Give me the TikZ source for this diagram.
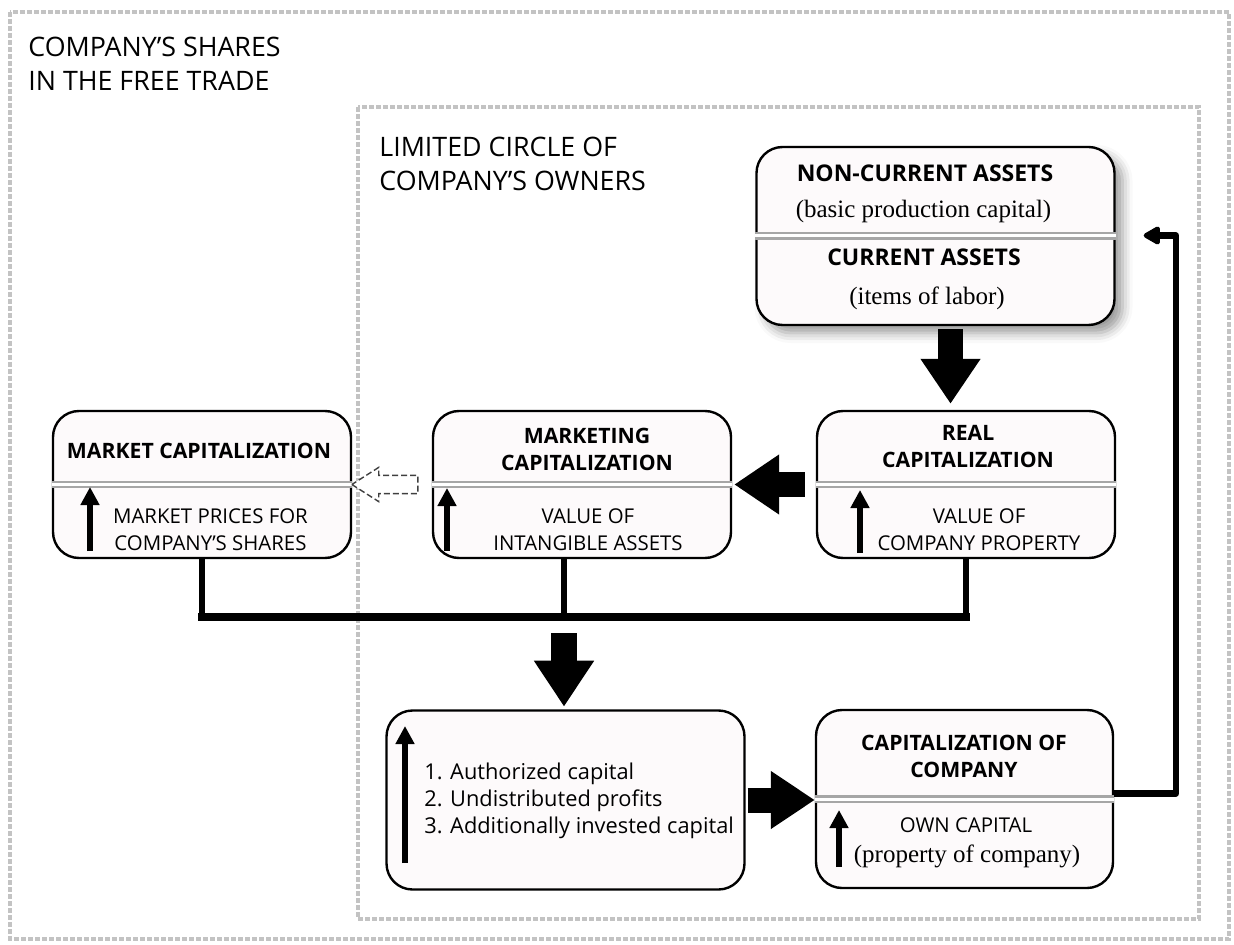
\documentclass[tikz,border=0pt]{standalone}
\usepackage{fontspec}
\setmainfont{Open Sans}
\newfontfamily\tnr{Liberation Serif}
\usepackage{tikz}
\usetikzlibrary{calc,arrows.meta,positioning,shapes.arrows,shadows.blur}

\definecolor{boxfill}{RGB}{253,250,251}
\definecolor{framegray}{RGB}{195,195,195}

\tikzset{
  frame/.style={draw=framegray, line width=2.4pt, dash pattern=on 2.5pt off 1pt},
  box/.style={draw, line width=1.2pt, rounded corners=13pt, fill=boxfill, inner sep=0pt},
  divider/.style={draw=black!35, line width=1.2pt, double=white, double distance=1.5pt},
  head/.style={font=\bfseries\fontsize{10.6}{13.5}\selectfont, align=center, inner sep=0pt, anchor=north},
  body/.style={font=\fontsize{10.2}{13.5}\selectfont, align=center, inner sep=0pt, anchor=north},
  paren/.style={font=\tnr\fontsize{12.5}{15}\selectfont, inner sep=0pt, anchor=base},
  zone/.style={font=\fontsize{13.4}{17}\selectfont, align=left, inner sep=0pt, anchor=north west},
  block/.style={line width=12.5pt, -{Triangle[width=28.5pt,length=22.5pt]}},
  risearrow/.style={line width=2.6pt, -{Triangle[width=9pt,length=9pt]}},
  bus/.style={line width=2.6pt},
  hollow/.style={single arrow, draw=black!75, dash pattern=on 3pt off 1.5pt, line width=0.7pt, fill=white,
    shape border rotate=180, minimum height=33pt, minimum width=16.5pt,
    single arrow head extend=4pt, single arrow tip angle=65, inner xsep=0pt, inner ysep=4.2pt}
}

\begin{document}
\begin{tikzpicture}[x=0.5pt, y=-0.5pt]
\useasboundingbox (0,0) rectangle (1234,945);

% the two circles of owners
\draw[frame] (10,12) rectangle (1229,939);
\draw[frame] (358,107) rectangle (1199,919);
\node[zone] (free) at (28,37) {COMPANY’S SHARES\\IN THE FREE TRADE};
\node[zone] (circle) at (379,137) {LIMITED CIRCLE OF\\COMPANY’S OWNERS};

% boxes
\node[box, blur shadow={shadow xshift=4pt, shadow yshift=-4pt, shadow blur radius=5pt},
  minimum width=179pt, minimum height=89pt] (assets) at (935.5,236) {};
\node[box, minimum width=149pt, minimum height=73.5pt] (market) at (202,484.5) {};
\node[box, minimum width=149pt, minimum height=73.5pt] (mktg) at (582,484.5) {};
\node[box, minimum width=149pt, minimum height=73.5pt] (real) at (966,484.5) {};
\node[box, minimum width=179pt, minimum height=89.5pt] (src) at (565.5,800) {};
\node[box, minimum width=148.5pt, minimum height=89pt] (own) at (964.5,799) {};

\draw[divider] (assets.west) -- (assets.east);
\draw[divider] (market.west) -- (market.east);
\draw[divider] (mktg.west) -- (mktg.east);
\draw[divider] (real.west) -- (real.east);
\draw[divider] (own.west) -- (own.east);

% texts
\node[head, font=\bfseries\fontsize{11.5}{13.5}\selectfont] (assets-t1) at (925,164) {NON-CURRENT ASSETS};
\node[paren] (assets-t2) at (923.5,218) {(basic production capital)};
\node[head, font=\bfseries\fontsize{11.5}{13.5}\selectfont] (assets-t3) at (924,248) {CURRENT ASSETS};
\node[paren] (assets-t4) at (927,305) {(items of labor)};

\node[head] (market-t) at (199,443) {MARKET CAPITALIZATION};
\node[body] (market-b) at (210.5,508) {MARKET PRICES FOR\\COMPANY’S SHARES};
\node[head] (mktg-t) at (587,428) {MARKETING\\CAPITALIZATION};
\node[body] (mktg-b) at (588,508) {VALUE OF\\INTANGIBLE ASSETS};
\node[head] (real-t) at (968,425) {REAL\\CAPITALIZATION};
\node[body] (real-b) at (979,508) {VALUE OF\\COMPANY PROPERTY};

\node[body, font=\fontsize{10.9}{13.5}\selectfont, align=left, anchor=north west] (src-b) at (424,763)
  {1. Authorized capital\\2. Undistributed profits\\3. Additionally invested capital};
\node[head] (own-t) at (964,735) {CAPITALIZATION OF\\COMPANY};
\node[body] (own-b) at (966,817) {OWN CAPITAL};
\node[paren] (own-p) at (967,862) {(property of company)};

% growth arrows
\draw[risearrow] (90,551) -- (90,487);
\draw[risearrow] (447,551) -- (447,488);
\draw[risearrow] (860,553) -- (860,490);
\draw[risearrow] (405,863) -- (405,726);
\draw[risearrow] (839,867) -- (839,810);

% flows
\coordinate (drop) at ([xshift=7.5pt]assets.south);
\draw[block, shorten <=1.5pt, shorten >=3pt] (drop) -- (drop |- real.north);
\draw[block, shorten <=5.5pt, shorten >=1pt] (real.west) -- (mktg.east);
\node[hollow] (back) at ($(market.east)!0.5!(mktg.west)$) {};

\coordinate (join) at (564,617);
\draw[bus] (market.south) -- (market.south |- join);
\draw[bus] (mktg.south -| join) -- (join);
\draw[bus] (real.south) -- (real.south |- join);
\draw[bus, line width=4pt, line cap=rect] (market.south |- join) -- (real.south |- join);

\draw[block, line width=13pt, -{Triangle[width=28.5pt,length=23pt]}, shorten <=8pt, shorten >=1.3pt]
  (join) -- (join |- src.north);
\draw[block, -{Triangle[width=27.5pt,length=22pt]}, shorten <=1pt] (src.east) -- (src.east -| own.west);

\coordinate (turn) at (1176,235.5);
\draw[line width=3.2pt, line join=round, -{Triangle[width=10pt,length=9.5pt,round]}]
  ([yshift=2.75pt]own.east) -| (turn) -- ($(assets.east |- turn)+(28,0)$);
\end{tikzpicture}
\end{document}
